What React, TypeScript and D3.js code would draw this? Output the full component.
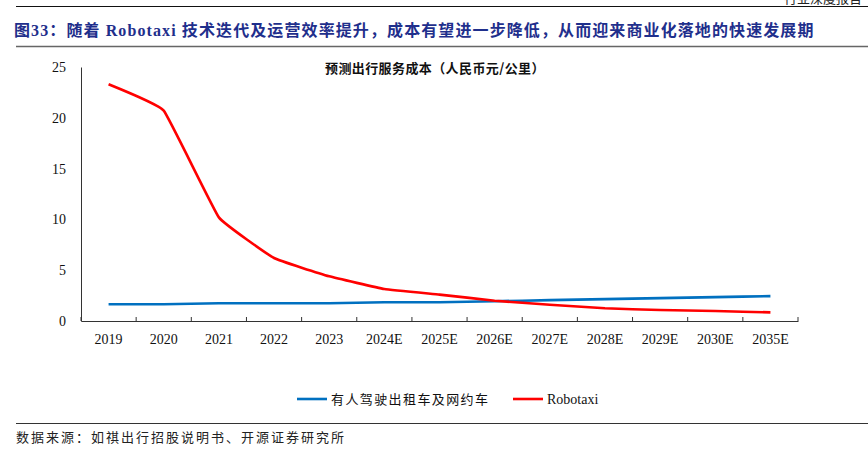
import { useEffect, useRef } from 'react';
import * as d3 from 'd3';

const years = ['2019', '2020', '2021', '2022', '2023', '2024E', '2025E', '2026E', '2027E', '2028E', '2029E', '2030E', '2035E'];
const humanCost = [1.65, 1.65, 1.75, 1.75, 1.75, 1.85, 1.85, 1.95, 2.05, 2.15, 2.25, 2.35, 2.45];
const robotaxiCost = [23.3, 20.7, 10.2, 6.2, 4.4, 3.15, 2.6, 2.0, 1.6, 1.25, 1.08, 0.98, 0.85];
const yTicks = [0, 5, 10, 15, 20, 25];
const seriesNames = ['有人驾驶出租车及网约车', 'Robotaxi'];
const seriesColours = ['#0070C0', '#FF0000'];

const serif = '"Liberation Serif", "Noto Sans CJK SC", serif';
const cjk = '"Noto Sans CJK SC", sans-serif';

const App = () => {
  const svgRef = useRef(null);

  useEffect(() => {
    const width = 868;
    const height = 450;
    const svg = d3.select(svgRef.current);
    svg.selectAll('*').remove();
    svg.attr('width', width).attr('height', height).attr('viewBox', `0 0 ${width} ${height}`);

    svg.append('rect').attr('width', width).attr('height', height).attr('fill', '#fff');

    // header strip (cut off at the top, as in the source page)
    svg.append('text')
      .attr('x', 862).attr('y', 3)
      .attr('text-anchor', 'end')
      .style('font-family', cjk)
      .style('font-size', '13px')
      .attr('fill', '#222')
      .text('行业深度报告');
    svg.append('line').attr('x1', 16).attr('x2', 868).attr('y1', 6.5).attr('y2', 6.5)
      .attr('stroke', '#111').attr('stroke-width', 1.2);

    svg.append('text')
      .attr('x', 14).attr('y', 36)
      .style('font-family', serif)
      .style('font-size', '16px')
      .style('letter-spacing', '1.1px')
      .style('font-weight', 'bold')
      .attr('fill', '#1F2F8C')
      .text('图33：随着 Robotaxi 技术迭代及运营效率提升，成本有望进一步降低，从而迎来商业化落地的快速发展期');
    svg.append('line').attr('x1', 16).attr('x2', 868).attr('y1', 46.5).attr('y2', 46.5)
      .attr('stroke', '#666').attr('stroke-width', 1.5);

    const margin = { left: 81, right: 70, top: 67, bottom: 129 };
    const plotW = width - margin.left - margin.right;
    const plotH = height - margin.top - margin.bottom;

    const x = d3.scaleBand().domain(years).range([margin.left, margin.left + plotW]);
    const y = d3.scaleLinear().domain([0, 25]).range([margin.top + plotH, margin.top]);

    // y axis
    const yAxis = svg.append('g')
      .attr('transform', `translate(${margin.left},0)`)
      .call(d3.axisLeft(y).tickValues(yTicks).tickSize(0).tickPadding(15));
    yAxis.select('.domain').attr('stroke', '#333');
    yAxis.selectAll('text')
      .style('font-family', serif)
      .style('font-size', '14px')
      .attr('fill', '#111');

    // x axis
    const xAxis = svg.append('g')
      .attr('transform', `translate(0,${y(0)})`)
      .call(d3.axisBottom(x).tickSize(0).tickPadding(13).tickSizeOuter(0));
    xAxis.select('.domain').attr('stroke', '#333');
    xAxis.selectAll('text')
      .style('font-family', serif)
      .style('font-size', '14px')
      .attr('fill', '#111');
    const bounds = years.map((yr) => x(yr) as number).concat([margin.left + plotW]);
    xAxis.selectAll('.sep')
      .data(bounds)
      .enter()
      .append('line')
      .attr('class', 'sep')
      .attr('x1', (d) => d).attr('x2', (d) => d)
      .attr('y1', 0).attr('y2', -4)
      .attr('stroke', '#333');

    // inner title
    svg.append('text')
      .attr('x', 325).attr('y', 73)
      .style('font-family', cjk)
      .style('font-size', '13px')
      .style('letter-spacing', '0.4px')
      .style('font-weight', 'bold')
      .attr('fill', '#111')
      .text('预测出行服务成本（人民币元/公里）');

    const line = d3.line<number>()
      .curve(d3.curveCardinal.tension(0.72))
      .x((_, i) => (x(years[i]) as number) + x.bandwidth() / 2)
      .y((d) => y(d));

    [humanCost, robotaxiCost].forEach((series, k) => {
      svg.append('path')
        .attr('d', line(series))
        .attr('fill', 'none')
        .attr('stroke', seriesColours[k])
        .attr('stroke-width', 2.6);
    });

    // legend
    const legendX = [297, 513];
    seriesNames.forEach((name, k) => {
      svg.append('line')
        .attr('x1', legendX[k]).attr('x2', legendX[k] + 30)
        .attr('y1', 399).attr('y2', 399)
        .attr('stroke', seriesColours[k]).attr('stroke-width', 2.6);
      svg.append('text')
        .attr('x', legendX[k] + 34).attr('y', 404)
        .style('font-family', k === 0 ? cjk : serif)
        .style('font-size', k === 0 ? '13px' : '14px')
        .style('letter-spacing', k === 0 ? '1.4px' : '0px')
        .attr('fill', '#111')
        .text(name);
    });

    svg.append('line').attr('x1', 16).attr('x2', 868).attr('y1', 423.5).attr('y2', 423.5)
      .attr('stroke', '#333').attr('stroke-width', 1);
    svg.append('text')
      .attr('x', 16).attr('y', 442)
      .style('font-family', cjk)
      .style('font-size', '13px')
      .style('letter-spacing', '2px')
      .attr('fill', '#222')
      .text('数据来源：如祺出行招股说明书、开源证券研究所');
  }, []);

  return (
    <div style={{ position: 'absolute', left: 0, top: 0 }}>
      <svg ref={svgRef}></svg>
    </div>
  );
};

export default App;
